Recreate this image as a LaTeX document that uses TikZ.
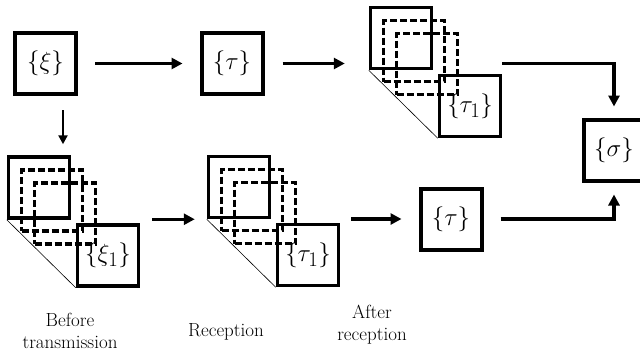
\documentclass[tikz,border=0pt]{standalone}
\usepackage{amsmath,amssymb}
\usetikzlibrary{arrows.meta}

\begin{document}
\begin{tikzpicture}[x=1pt, y=-1pt, line join=miter,
        box/.style={draw, line width=4pt, minimum size=61pt, inner sep=0pt, font=\Huge},
        stackbox/.style={draw, line width=3.5pt, minimum size=61pt, inner sep=0pt, font=\Huge},
        dashbox/.style={draw, line width=3.5pt, dash pattern=on 7pt off 3pt, minimum size=61pt, inner sep=0pt},
        conn/.style={line width=3.5pt, -{Triangle[length=11pt,width=11pt]}},
        phase/.style={font=\fontsize{19}{22}\selectfont, align=center}]
                \useasboundingbox (0,0) rectangle (640,356);
                \clip (0,0) rectangle (640,356);
                \node[box] (xi) at (45.5,63.5) {$\{\xi\}$};
                \node[box] (tau) at (232,63.5) {$\{\tau\}$};
                \node[box] (sigma) at (614,150) {$\{\sigma\}$};
                \node[box] (btau) at (451,219) {$\{\tau\}$};
                % stacks of copies
                \foreach \n/\x/\y/\t in {st/401/38/\tau_1, sa/39/187.5/\xi_1, sb/239/187/\tau_1} {
                    \node[stackbox] (\n-back) at (\x,\y) {};
                    \node[dashbox] at (\x+13,\y+13) {};
                    \node[dashbox] at (\x+26,\y+26) {};
                    \node[stackbox] (\n-front) at (\x+69,\y+68) {$\{\t\}$};
                    \draw[line width=0.6pt] (\n-back.south west) -- (\n-front.south west);
                }
                \draw[conn, shorten <=17pt, shorten >=17pt] (xi) -- (tau);
                \draw[conn, shorten <=18pt, shorten >=24pt] (tau.east) -- (tau.east -| st-back.west);
                \draw[conn, shorten >=11pt] (st-front.east |- tau.east) -| (sigma.north);
                \draw[line width=2.5pt, -{Triangle[length=9pt,width=9pt]}, shorten <=14pt, shorten >=11pt]
                    ([xshift=17.5pt]xi.south) -- ([xshift=17.5pt]xi.south |- sa-back.north);
                \draw[conn, shorten <=12pt, shorten >=12pt] (sa-front.east |- sb-back.south) -- (sb-back.south west);
                \draw[conn, shorten <=11pt, shorten >=17pt] (sb-front.east |- btau) -- (btau.west);
                \draw[conn, shorten <=17pt, shorten >=12pt] (btau.east) -| (sigma.south);
                \node[phase] (before) at (70,331) {Before\\transmission};
                \node[phase] (recep) at (226,332) {Reception};
                \node[phase] (after) at (372,325) {After\\reception};
            \end{tikzpicture}
\end{document}
